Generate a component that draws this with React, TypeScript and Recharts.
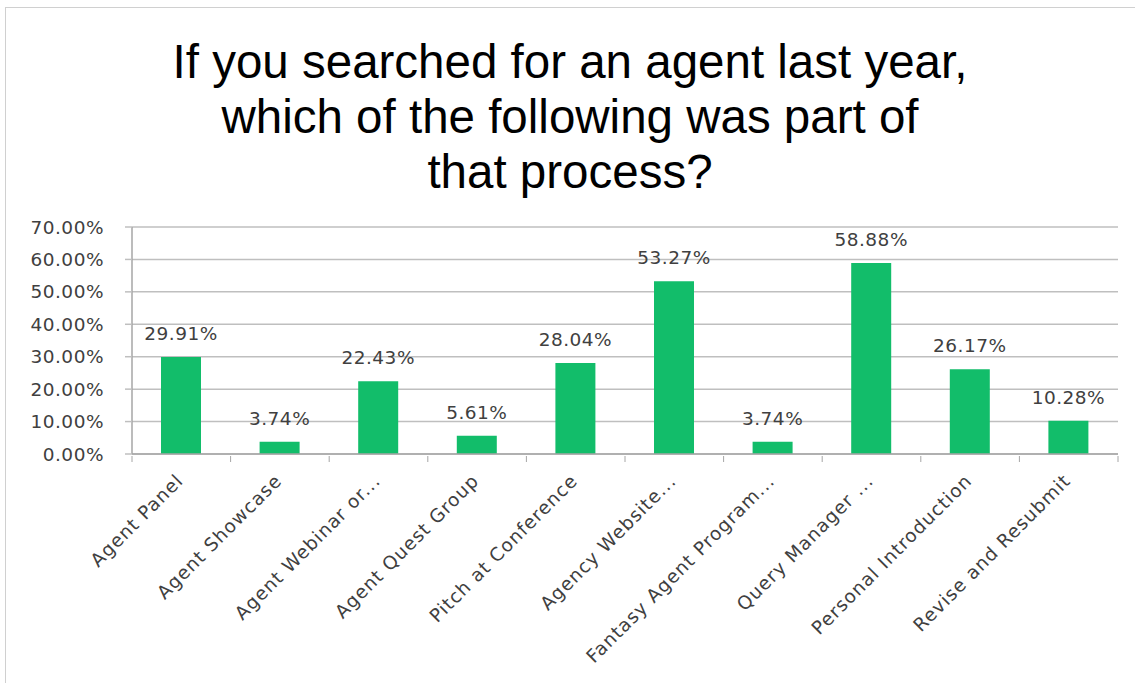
import React from 'react';
import { BarChart, Bar, XAxis, YAxis, CartesianGrid, LabelList } from 'recharts';

const categories = [
  'Agent Panel',
  'Agent Showcase',
  'Agent Webinar or...',
  'Agent Quest Group',
  'Pitch at Conference',
  'Agency Website...',
  'Fantasy Agent Program...',
  'Query Manager ...',
  'Personal Introduction',
  'Revise and Resubmit',
];
const shares = [29.91, 3.74, 22.43, 5.61, 28.04, 53.27, 3.74, 58.88, 26.17, 10.28];
const yTicks = [0, 10, 20, 30, 40, 50, 60, 70];
const titleLines = [
  'If you searched for an agent last year,',
  'which of the following was part of',
  'that process?',
];

const data = categories.map((name, i) => ({ name, value: shares[i] }));

const W = 1135;
const H = 683;
const PLOT_LEFT = 132;
const PLOT_RIGHT = 1118;
const PLOT_TOP = 227;
const BAND = (PLOT_RIGHT - PLOT_LEFT) / categories.length;

const axisFont = '"DejaVu Sans", Verdana, sans-serif';
const textGray = '#404040';
const gridGray = '#bfbfbf';

function XTick(props: any) {
  const { x, y, payload, index } = props;
  const last = index === categories.length - 1;
  const ax = x + 3;
  const ay = y + 20;
  return (
    <g>
      <line x1={x - BAND / 2} y1={y - 6} x2={x - BAND / 2} y2={y} stroke="#a6a6a6" strokeWidth={1} />
      {last && <line x1={x + BAND / 2} y1={y - 6} x2={x + BAND / 2} y2={y} stroke="#a6a6a6" strokeWidth={1} />}
      <text
        x={ax}
        y={ay}
        textAnchor="end"
        transform={`rotate(-45, ${ax}, ${ay})`}
        fill={textGray}
        fontSize={18.5}
        letterSpacing={1}
        fontFamily={axisFont}
      >
        {payload.value}
      </text>
    </g>
  );
}

export default function App() {
  return (
    <div style={{ position: 'fixed', left: 0, top: 0, width: W, height: H, overflow: 'hidden', background: '#fff' }}>
      <div
        style={{
          position: 'absolute',
          left: 5,
          top: 7,
          width: W,
          height: H,
          borderLeft: '1.5px solid #d0d0d0',
          borderTop: '1.5px solid #d0d0d0',
        }}
      />
      <div
        style={{
          position: 'absolute',
          left: 0,
          top: 34,
          width: 1140,
          textAlign: 'center',
          fontFamily: '"Liberation Sans", Arial, sans-serif',
          fontSize: 47.5,
          lineHeight: '55px',
          color: '#000',
        }}
      >
        {titleLines.map((t) => (
          <div key={t}>{t}</div>
        ))}
      </div>
      <div style={{ position: 'absolute', left: 0, top: 0 }}>
        <BarChart
          width={W}
          height={H}
          data={data}
          margin={{ top: PLOT_TOP, right: W - PLOT_RIGHT, left: 10, bottom: 29 }}
          barCategoryGap={0}
        >
          <CartesianGrid vertical={false} stroke={gridGray} strokeWidth={1.5} />
          <YAxis
            width={PLOT_LEFT - 10}
            domain={[0, 70]}
            ticks={yTicks}
            tickFormatter={(v: number) => `${v.toFixed(2)}%`}
            axisLine={{ stroke: '#a6a6a6', strokeWidth: 1.5 }}
            tickLine={{ stroke: gridGray, strokeWidth: 1.5 }}
            tickSize={7}
            tickMargin={21}
            tick={{ fill: textGray, fontSize: 18.5, fontFamily: axisFont, letterSpacing: 0.5 }}
          />
          <XAxis
            dataKey="name"
            height={200}
            interval={0}
            axisLine={{ stroke: '#a6a6a6', strokeWidth: 1.5 }}
            tickLine={false}
            tick={<XTick />}
          />
          <Bar dataKey="value" fill="#12bd6a" barSize={40} isAnimationActive={false}>
            <LabelList
              dataKey="value"
              position="top"
              offset={17}
              formatter={(v: any) => `${Number(v).toFixed(2)}%`}
              fill={textGray}
              fontSize={18.5}
              letterSpacing={0.5}
              fontFamily={axisFont}
            />
          </Bar>
        </BarChart>
      </div>
    </div>
  );
}
